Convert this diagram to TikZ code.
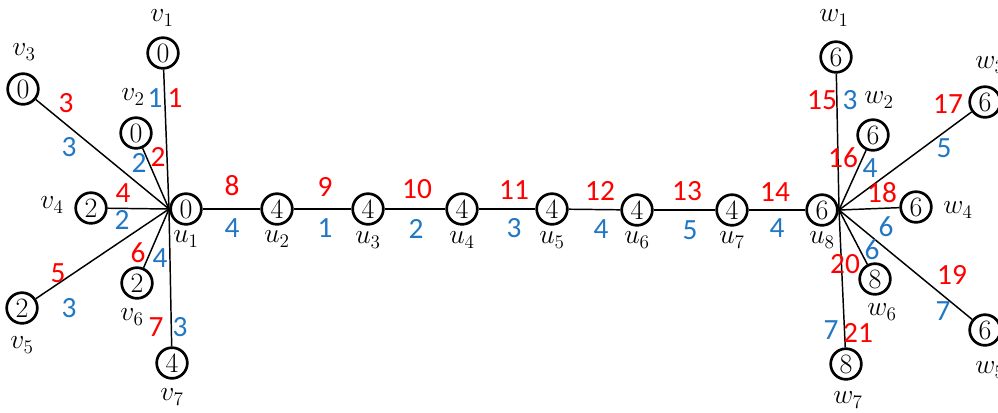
\documentclass[tikz,border=0pt]{standalone}
\usepackage{fontspec}
\newfontfamily\lblfont{Carlito}
\definecolor{myred}{RGB}{255,0,0}
\definecolor{myblue}{RGB}{34,119,196}
\begin{document}
\begin{tikzpicture}[x=0.75pt,y=-0.75pt,
  vert/.style={circle,draw,line width=2pt,minimum size=23pt,inner sep=0pt,font=\fontsize{21}{22}\selectfont},
  edge/.style={line width=1.1pt},
  rl/.style={text=myred,font=\lblfont\fontsize{22}{24}\selectfont,inner sep=0pt},
  bl/.style={text=myblue,font=\lblfont\fontsize{22}{24}\selectfont,inner sep=0pt},
  nm/.style={font=\fontsize{22}{24}\selectfont,inner sep=0pt}]
\useasboundingbox (0,0) rectangle (998,412);
% left star
\node[vert] (v1) at (163,53) {0};
\node[vert] (v2) at (136,133) {0};
\node[vert] (v3) at (23,89) {0};
\node[vert] (v4) at (91,208) {2};
\node[vert] (v5) at (22,308) {2};
\node[vert] (v6) at (137,283) {2};
\node[vert] (v7) at (172,363) {4};
\node[vert] (u1) at (186,209) {0};
\coordinate (h1) at (169,209);
% chain
\node[vert] (u2) at (277,209) {4};
\node[vert] (u3) at (368,209) {4};
\node[vert] (u4) at (462,209) {4};
\node[vert] (u5) at (552,209) {4};
\node[vert] (u6) at (637,210) {4};
\node[vert] (u7) at (732,210) {4};
\node[vert] (u8) at (822,210) {6};
\coordinate (h2) at (839,210);
% right star
\node[vert] (w1) at (836,57) {6};
\node[vert] (w2) at (873,135) {6};
\node[vert] (w3) at (985,102) {6};
\node[vert] (w4) at (916,207) {6};
\node[vert] (w5) at (985,330) {6};
\node[vert] (w6) at (875,279) {8};
\node[vert] (w7) at (846,364) {8};
% edges
\foreach \v in {v1,v2,v3,v4,v5,v6,v7} \draw[edge] (\v) -- (h1);
\foreach \w in {w1,w2,w3,w4,w5,w6,w7} \draw[edge] (\w) -- (h2);
\draw[edge] (u1) -- (u2);
\draw[edge] (u2) -- (u3);
\draw[edge] (u3) -- (u4);
\draw[edge] (u4) -- (u5);
\draw[edge] (u5) -- (u6);
\draw[edge] (u6) -- (u7);
\draw[edge] (u7) -- (u8);
% vertex names
\node[nm] (nv1) at (162,18) {$v_1$};
\node[nm] (nv2) at (133,97) {$v_2$};
\node[nm] (nv3) at (24,52) {$v_3$};
\node[nm] (nv4) at (52,205) {$v_4$};
\node[nm] (nv5) at (22,345) {$v_5$};
\node[nm] (nv6) at (132,317) {$v_6$};
\node[nm] (nv7) at (172,397) {$v_7$};
\node[nm] (nu1) at (186,239) {$u_1$};
\node[nm] (nu2) at (277,239) {$u_2$};
\node[nm] (nu3) at (368,240) {$u_3$};
\node[nm] (nu4) at (462,240) {$u_4$};
\node[nm] (nu5) at (552,240) {$u_5$};
\node[nm] (nu6) at (637,240) {$u_6$};
\node[nm] (nu7) at (732,240) {$u_7$};
\node[nm] (nu8) at (822,240) {$u_8$};
\node[nm] (nw1) at (834,18) {$w_1$};
\node[nm] (nw2) at (879,100) {$w_2$};
\node[nm] (nw3) at (990,65) {$w_3$};
\node[nm] (nw4) at (958,210) {$w_4$};
\node[nm] (nw5) at (990,370) {$w_5$};
\node[nm] (nw6) at (882,312) {$w_6$};
\node[nm] (nw7) at (848,400) {$w_7$};
% left edge labels
\node[bl] (b1) at (155,98) {1};
\node[rl] (r1) at (175,98) {1};
\node[rl] (r3) at (66,103) {3};
\node[bl] (b3) at (69,147) {3};
\node[bl] (b2) at (139,163) {2};
\node[rl] (r2) at (158,157) {2};
\node[rl] (r4) at (123,193) {4};
\node[bl] (b4) at (122,220) {2};
\node[rl] (r5) at (58,273) {5};
\node[bl] (b5) at (69,308) {3};
\node[rl] (r6) at (138,253) {6};
\node[bl] (b6) at (160,258) {4};
\node[rl] (r7) at (156,327) {7};
\node[bl] (b7) at (180,327) {3};
% chain labels
\node[rl] (r8) at (232,186) {8};
\node[bl] (b8) at (232,228) {4};
\node[rl] (r9) at (325,187) {9};
\node[bl] (b9) at (325,228) {1};
\node[rl] (r10) at (417,189) {10};
\node[bl] (b10) at (416,229) {2};
\node[rl] (r11) at (514,190) {11};
\node[bl] (b11) at (514,228) {3};
\node[rl] (r12) at (600,191) {12};
\node[bl] (b12) at (601,229) {4};
\node[rl] (r13) at (687,191) {13};
\node[bl] (b13) at (690,230) {5};
\node[rl] (r14) at (775,192) {14};
\node[bl] (b14) at (777,228) {4};
% right edge labels
\node[rl] (r15) at (822,100) {15};
\node[bl] (b15) at (850,100) {3};
\node[rl] (r16) at (843,158) {16};
\node[bl] (b16) at (870,168) {4};
\node[rl] (r17) at (948,104) {17};
\node[bl] (b17) at (944,148) {5};
\node[rl] (r18) at (882,193) {18};
\node[bl] (b18) at (886,227) {6};
\node[rl] (r19) at (952,275) {19};
\node[bl] (b19) at (943,311) {7};
\node[bl] (b20) at (872,250) {6};
\node[rl] (r20) at (845,264) {20};
\node[bl] (b21) at (831,330) {7};
\node[rl] (r21) at (858,333) {21};
\end{tikzpicture}
\end{document}
